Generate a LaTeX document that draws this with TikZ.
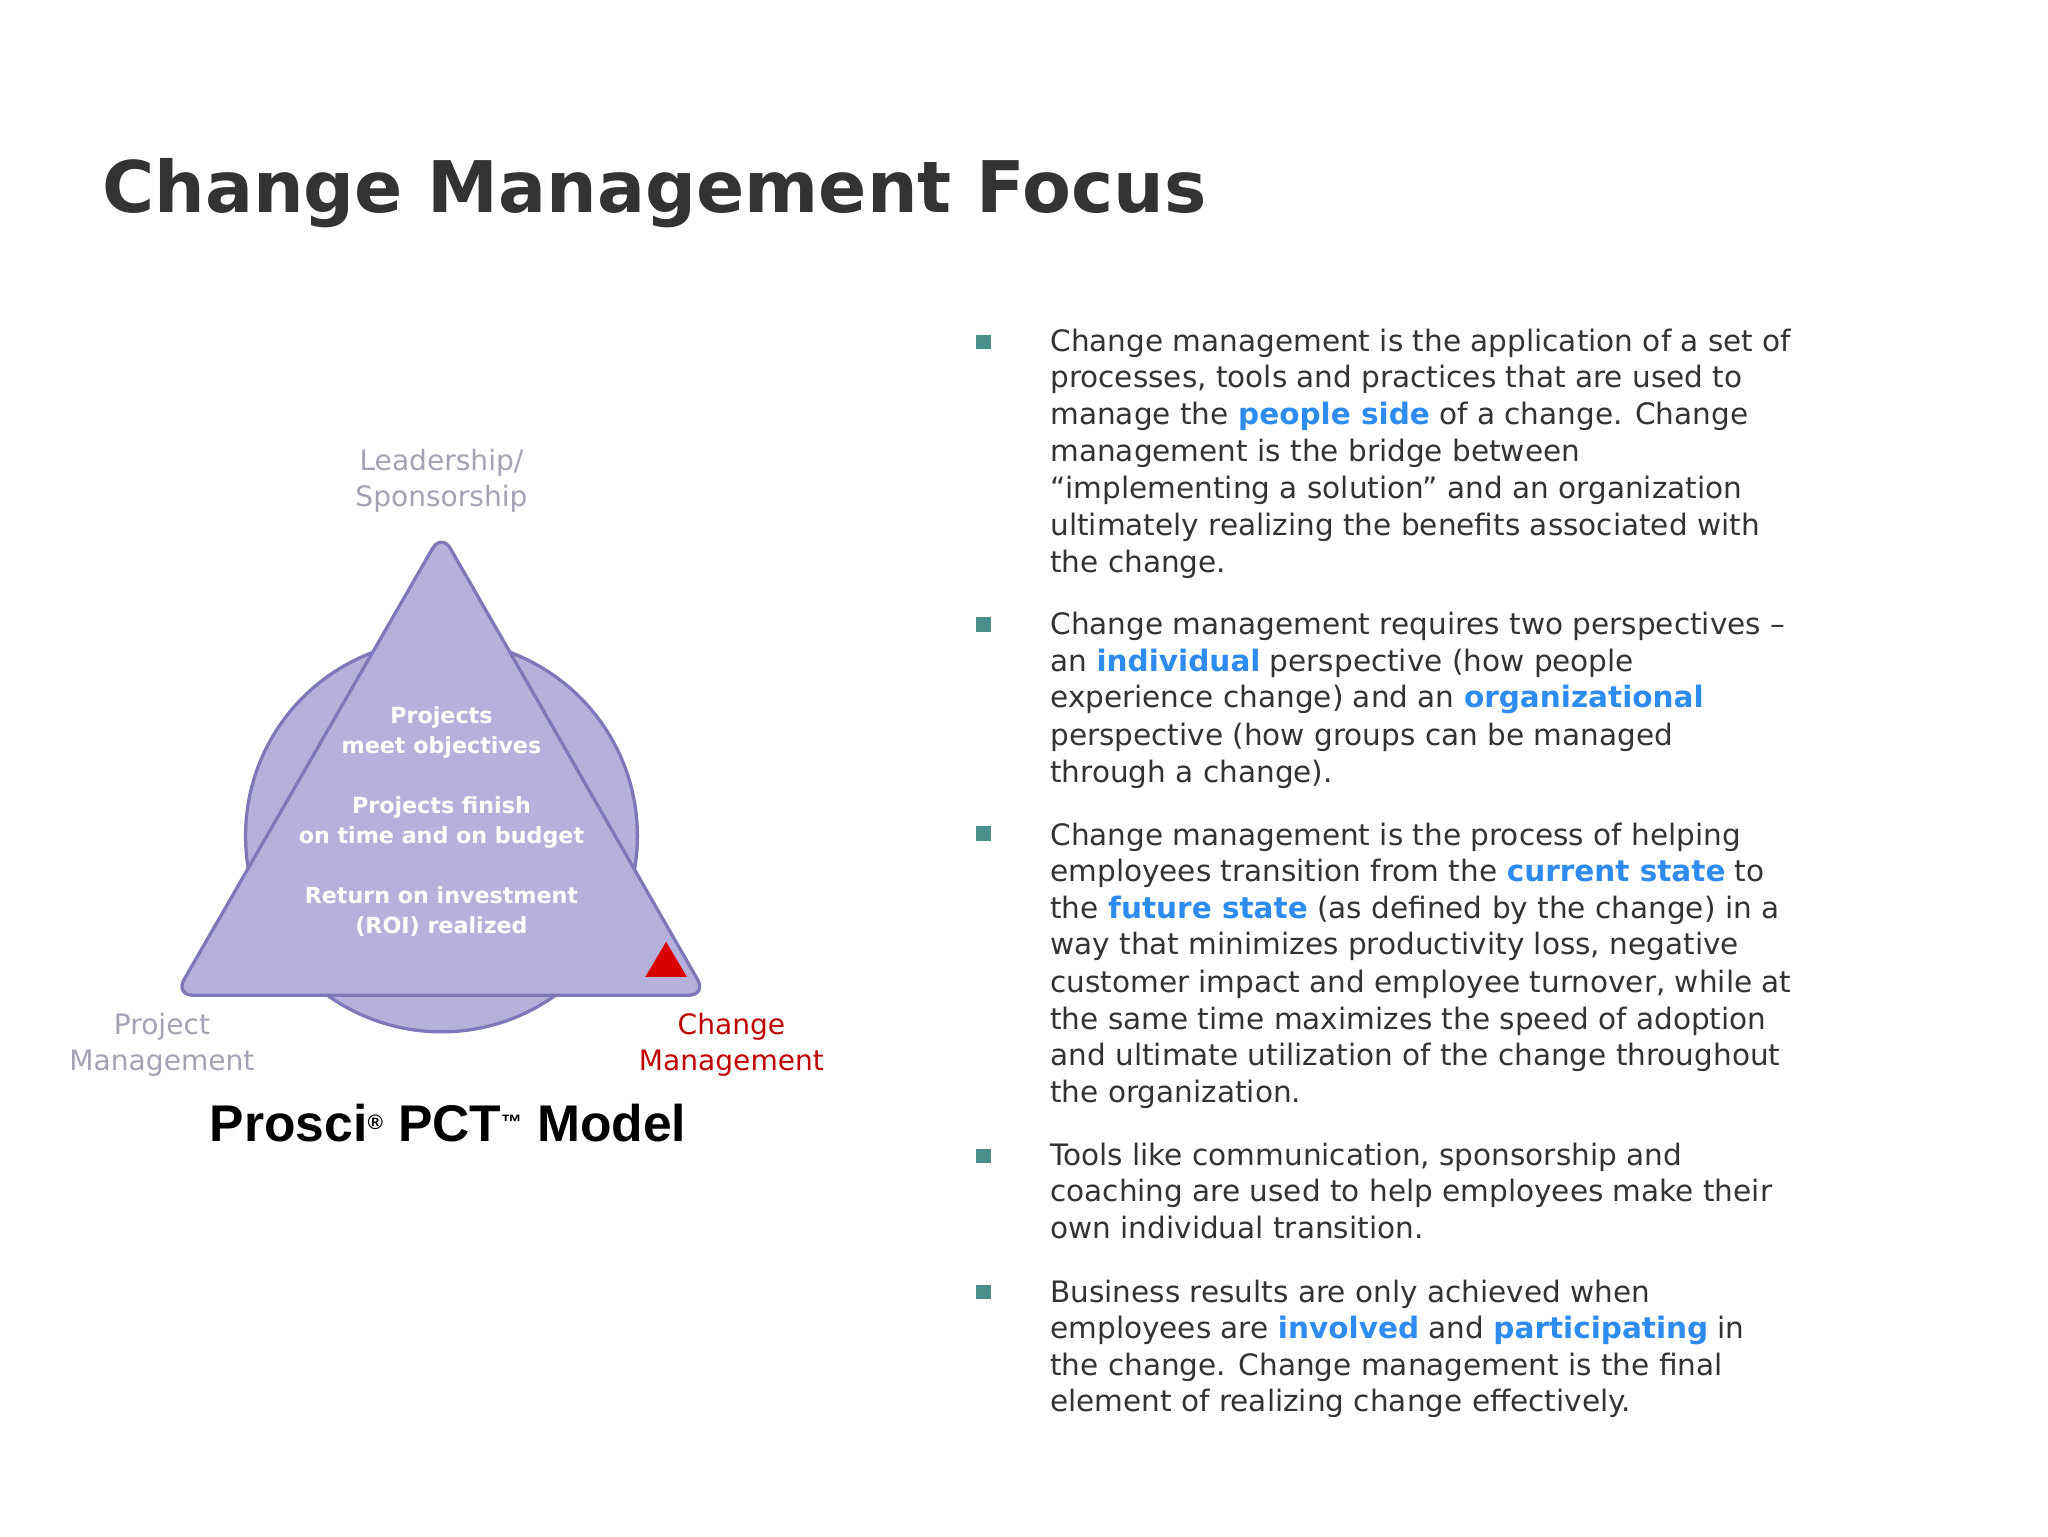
\documentclass[tikz,border=0pt]{standalone}
\usepackage{fontspec}
\setmainfont{DejaVu Sans}
\newfontfamily\arialf{Liberation Sans}
\definecolor{hl}{HTML}{2E8BF0}
\definecolor{tri}{HTML}{B6B1DA}
\definecolor{edge}{HTML}{7E77B8}
\definecolor{lbl}{HTML}{A3A3B3}
\definecolor{bul}{HTML}{4A8F8C}
\definecolor{txt}{HTML}{333333}
\newcommand{\hlw}[1]{\textcolor{hl}{\bfseries #1}}
\tikzset{
 line/.style={anchor=base west,inner sep=0pt,font=\fontsize{22.6}{24}\selectfont,text=txt},
 bsq/.style={fill=bul,minimum size=11pt,inner sep=0pt},
 inner/.style={align=center,text=white,font=\fontsize{17}{23}\selectfont\bfseries},
 corner/.style={align=center,text=lbl,font=\fontsize{21.5}{28}\selectfont}
}
\begin{document}
\begin{tikzpicture}[x=1pt,y=-1pt]
\useasboundingbox (0,0) rectangle (1568,1176);
\fill[white] (0,0) rectangle (1568,1176);
\node[anchor=base west,inner sep=0pt,text=txt,font=\fontsize{54.5}{60}\selectfont\bfseries] (title) at (78,163) {Change Management Focus};
% diagram
\draw[edge,line width=2.5pt,fill=tri] (338,640) circle (150);
\draw[edge,line width=2.5pt,fill=tri,rounded corners=14pt] (338,408) -- (541,762) -- (134,762) -- cycle;
\fill[red!85!black] (510,721) -- (526,748) -- (494,748) -- cycle;
\node[inner] (p1) at (338,561) {Projects\\meet objectives};
\node[inner] (p2) at (338,630) {Projects finish\\on time and on budget};
\node[inner] (p3) at (338,698) {Return on investment\\(ROI) realized};
\node[corner] (lead) at (338,368) {Leadership/\\Sponsorship};
\node[corner] (pm) at (124,800) {Project\\Management};
\node[corner,text=red!75!black] (cm) at (560,800) {Change\\Management};
\node[anchor=base,inner sep=0pt,font=\arialf\fontsize{39.5}{42}\selectfont\bfseries] (model) at (343,874) {Prosci\textsuperscript{\fontsize{16}{16}\selectfont\textregistered} PCT\textsuperscript{\fontsize{16}{16}\selectfont\texttrademark} Model};
% bullets
\foreach \yy in {262,478,638,885,989} \node[bsq] at (753,\yy) {};
\node[line] (a1) at (804,269) {Change management is the application of a set of};
\node[line] at (804,297) {processes, tools and practices that are used to};
\node[line] at (804,325) {manage the \hlw{people side} of a change. Change};
\node[line] at (804,353) {management is the bridge between};
\node[line] at (804,382) {“implementing a solution” and an organization};
\node[line] at (804,410) {ultimately realizing the benefits associated with};
\node[line] at (804,438) {the change.};
\node[line] at (804,486) {Change management requires two perspectives –};
\node[line] at (804,514) {an \hlw{individual} perspective (how people};
\node[line] at (804,542) {experience change) and an \hlw{organizational}};
\node[line] at (804,571) {perspective (how groups can be managed};
\node[line] at (804,599) {through a change).};
\node[line] at (804,647) {Change management is the process of helping};
\node[line] at (804,675) {employees transition from the \hlw{current state} to};
\node[line] at (804,703) {the \hlw{future state} (as defined by the change) in a};
\node[line] at (804,731) {way that minimizes productivity loss, negative};
\node[line] at (804,760) {customer impact and employee turnover, while at};
\node[line] at (804,788) {the same time maximizes the speed of adoption};
\node[line] at (804,816) {and ultimate utilization of the change throughout};
\node[line] at (804,844) {the organization.};
\node[line] at (804,892) {Tools like communication, sponsorship and};
\node[line] at (804,920) {coaching are used to help employees make their};
\node[line] at (804,948) {own individual transition.};
\node[line] at (804,997) {Business results are only achieved when};
\node[line] at (804,1025) {employees are \hlw{involved} and \hlw{participating} in};
\node[line] at (804,1053) {the change. Change management is the final};
\node[line] at (804,1081) {element of realizing change effectively.};
\end{tikzpicture}
\end{document}
